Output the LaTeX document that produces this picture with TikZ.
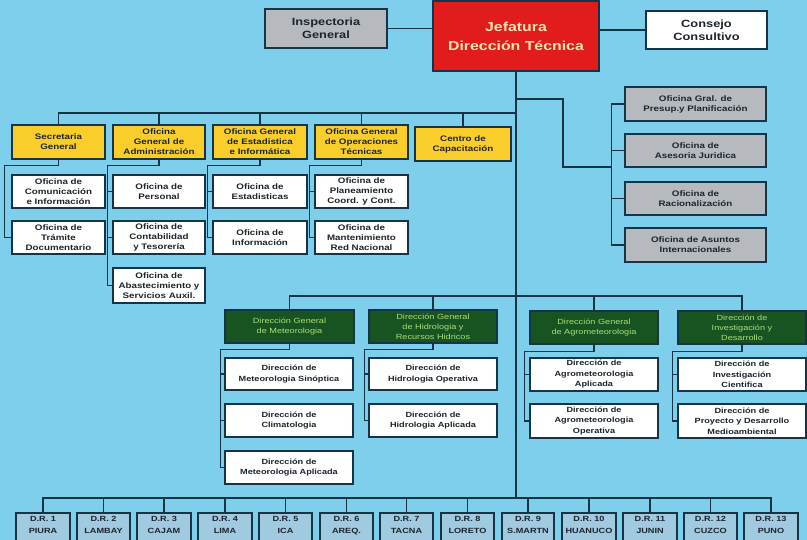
\documentclass[tikz,border=0pt]{standalone}
\usepackage{fontspec}
\setmainfont{Liberation Sans}[FakeStretch=1.22]
\definecolor{bgc}{RGB}{126,207,236}
\definecolor{linec}{RGB}{22,52,70}
\definecolor{txtc}{RGB}{28,36,46}
\definecolor{yelc}{RGB}{250,206,42}
\definecolor{redc}{RGB}{226,28,28}
\definecolor{redtxt}{RGB}{252,230,178}
\definecolor{grayc}{RGB}{182,186,190}
\definecolor{grnc}{RGB}{24,84,34}
\definecolor{grntxt}{RGB}{172,222,122}
\definecolor{drc}{RGB}{160,202,224}
\tikzset{
  boxbase/.style={draw=linec, line width=1.3pt, inner sep=0pt, align=center, text=txtc},
  smallf/.style={font=\fontsize{8}{10}\selectfont\bfseries},
  lowf/.style={font=\fontsize{7.5}{10.5}\selectfont\bfseries},
  whitebox/.style={boxbase, fill=white},
  graybox/.style={boxbase, fill=grayc},
  yellowbox/.style={boxbase, fill=yelc, smallf},
  redbox/.style={boxbase, fill=redc, text=redtxt, font=\fontsize{13}{19}\selectfont\bfseries},
  greenbox/.style={boxbase, fill=grnc, text=grntxt, font=\fontsize{7.5}{10}\selectfont},
  drbox/.style={boxbase, fill=drc, font=\fontsize{7.5}{12}\selectfont\bfseries},
  conn/.style={draw=linec, line width=1.7pt},
}
\newcommand\bx[7]{\node[#6, minimum width={#4-#2}, minimum height={#5-#3}] (#1) at ({(#2+#4)/2},{(#3+#5)/2}) {#7};}
\begin{document}
\begin{tikzpicture}[x=1pt,y=-1pt]
\useasboundingbox (0,0) rectangle (807,540);
\fill[bgc] (0,0) rectangle (807,540);
\clip (0,0) rectangle (807,540);
% coordinates
\coordinate (yb) at (516,113);
\coordinate (ga) at (516,99);
\coordinate (gb) at (563,167);
\coordinate (gc) at (612,167);
\coordinate (mb) at (516,296);
\coordinate (db) at (516,498);
% top
\bx{ig}{265}{9}{387}{48}{graybox,font=\fontsize{10.5}{13}\selectfont\bfseries}{Inspectoria\\General}
\bx{jef}{433}{1}{599}{71}{redbox}{Jefatura\\Dirección Técnica}
\bx{cc}{646}{11}{767}{49}{whitebox,font=\fontsize{10.5}{13}\selectfont\bfseries}{Consejo\\Consultivo}
% yellow row
\bx{sg}{12}{125}{105}{159}{yellowbox}{Secretaria\\General}
\bx{oga}{113}{125}{205}{159}{yellowbox}{Oficina\\General de\\Administración}
\bx{oge}{213}{125}{307}{159}{yellowbox}{Oficina General\\de Estadistica\\e Informática}
\bx{ogo}{315}{125}{408}{159}{yellowbox}{Oficina General\\de Operaciones\\Técnicas}
\bx{cap}{415}{127}{511}{161}{yellowbox}{Centro de\\Capacitación}
% white under yellow
\bx{w11}{12}{175}{105}{208}{whitebox,smallf}{Oficina de\\Comunicación\\e Información}
\bx{w12}{12}{221}{105}{254}{whitebox,smallf}{Oficina de\\Trámite\\Documentario}
\bx{w21}{113}{175}{205}{208}{whitebox,smallf}{Oficina de\\Personal}
\bx{w22}{113}{221}{205}{254}{whitebox,smallf}{Oficina de\\Contabilidad\\y Tesorería}
\bx{w23}{113}{268}{205}{303}{whitebox,smallf}{Oficina de\\Abastecimiento y\\Servicios Auxil.}
\bx{w31}{213}{175}{307}{208}{whitebox,smallf}{Oficina de\\Estadisticas}
\bx{w32}{213}{221}{307}{254}{whitebox,smallf}{Oficina de\\Información}
\bx{w41}{315}{175}{408}{208}{whitebox,smallf}{Oficina de\\Planeamiento\\Coord. y Cont.}
\bx{w42}{315}{221}{408}{254}{whitebox,smallf}{Oficina de\\Mantenimiento\\Red Nacional}
% gray right
\bx{g1}{625}{87}{766}{121}{graybox,smallf}{Oficina Gral. de\\Presup.y Planificación}
\bx{g2}{625}{134}{766}{167}{graybox,smallf}{Oficina de\\Asesoria Juridica}
\bx{g3}{625}{182}{766}{215}{graybox,smallf}{Oficina de\\Racionalización}
\bx{g4}{625}{228}{766}{262}{graybox,smallf}{Oficina de Asuntos\\Internacionales}
% green row
\bx{m1}{225}{310}{354}{343}{greenbox}{Dirección General\\de Meteorologia}
\bx{m2}{369}{310}{497}{343}{greenbox}{Dirección General\\de Hidrologia y\\Recursos Hidricos}
\bx{m3}{530}{311}{658}{344}{greenbox}{Dirección General\\de Agrometeorologia}
\bx{m4}{678}{311}{806}{344}{greenbox}{Dirección de\\Investigación y\\Desarrollo}
% white under green
\bx{m11}{225}{358}{353}{390}{whitebox,lowf}{Dirección de\\Meteorologia Sinóptica}
\bx{m12}{225}{404}{353}{437}{whitebox,lowf}{Dirección de\\Climatologia}
\bx{m13}{225}{451}{353}{484}{whitebox,lowf}{Dirección de\\Meteorologia Aplicada}
\bx{m21}{369}{358}{497}{390}{whitebox,lowf}{Dirección de\\Hidrologia Operativa}
\bx{m22}{369}{404}{497}{437}{whitebox,lowf}{Dirección de\\Hidrologia Aplicada}
\bx{m31}{530}{358}{658}{391}{whitebox,lowf}{Dirección de\\Agrometeorologia\\Aplicada}
\bx{m32}{530}{404}{658}{438}{whitebox,lowf}{Dirección de\\Agrometeorologia\\Operativa}
\bx{m41}{678}{358}{806}{391}{whitebox,lowf}{Dirección de\\Investigación\\Cientifica}
\bx{m42}{678}{404}{806}{438}{whitebox,lowf}{Dirección de\\Proyecto y Desarrollo\\Medioambiental}
% D.R. row
\bx{dr1}{16}{513}{70}{549}{drbox}{D.R. 1\\PIURA\\\mbox{}}
\bx{dr2}{77}{513}{130}{549}{drbox}{D.R. 2\\LAMBAY\\\mbox{}}
\bx{dr3}{137}{513}{191}{549}{drbox}{D.R. 3\\CAJAM\\\mbox{}}
\bx{dr4}{198}{513}{252}{549}{drbox}{D.R. 4\\LIMA\\\mbox{}}
\bx{dr5}{259}{513}{312}{549}{drbox}{D.R. 5\\ICA\\\mbox{}}
\bx{dr6}{320}{513}{373}{549}{drbox}{D.R. 6\\AREQ.\\\mbox{}}
\bx{dr7}{380}{513}{433}{549}{drbox}{D.R. 7\\TACNA\\\mbox{}}
\bx{dr8}{441}{513}{494}{549}{drbox}{D.R. 8\\LORETO\\\mbox{}}
\bx{dr9}{502}{513}{554}{549}{drbox}{D.R. 9\\S.MARTN\\\mbox{}}
\bx{dr10}{562}{513}{616}{549}{drbox}{D.R. 10\\HUANUCO\\\mbox{}}
\bx{dr11}{623}{513}{677}{549}{drbox}{D.R. 11\\JUNIN\\\mbox{}}
\bx{dr12}{684}{513}{737}{549}{drbox}{D.R. 12\\CUZCO\\\mbox{}}
\bx{dr13}{744}{513}{798}{549}{drbox}{D.R. 13\\PUNO\\\mbox{}}
% connectors
\draw[conn] (ig.east) -- (ig.east -| jef.west);
\draw[conn] (jef.east |- cc.west) -- (cc.west);
\draw[conn] (jef.south) -- (db);
% yellow bus
\draw[conn] (sg.north) |- (yb);
\foreach \n in {oga,oge,ogo,cap} \draw[conn] (\n.north) -- (\n.north |- yb);
% gray branch
\draw[conn] (ga) -| (gb) -- (gc);
\draw[conn] (g1.west) -- ++(-13,0) |- (g4.west);
\draw[conn] (g2.west) -- ++(-13,0);
\draw[conn] (g3.west) -- ++(-13,0);
% yellow children
\draw[conn] (sg.south) -- ++(0,6) -| ([xshift=-7pt]w12.west) -- (w12.west);
\draw[conn] (oga.south) -- ++(0,6) -| ([xshift=-5pt]w23.west) -- (w23.west);
\draw[conn] (w21.west) -- ++(-5,0);
\draw[conn] (w22.west) -- ++(-5,0);
\draw[conn] (oge.south) -- ++(0,6) -| ([xshift=-5pt]w32.west) -- (w32.west);
\draw[conn] (w31.west) -- ++(-5,0);
\draw[conn] (ogo.south) -- ++(0,6) -| ([xshift=-5pt]w42.west) -- (w42.west);
\draw[conn] (w41.west) -- ++(-5,0);
% green bus
\draw[conn] (m1.north) |- (mb) -| (m4.north);
\draw[conn] (m2.north) -- (m2.north |- mb);
\draw[conn] (m3.north) -- (m3.north |- mb);
% green children
\draw[conn] (m1.south) -- ++(0,6) -| ([xshift=-4pt]m13.west) -- (m13.west);
\draw[conn] (m11.west) -- ++(-4,0);
\draw[conn] (m12.west) -- ++(-4,0);
\draw[conn] (m2.south) -- ++(0,6) -| ([xshift=-4pt]m22.west) -- (m22.west);
\draw[conn] (m21.west) -- ++(-4,0);
\draw[conn] (m3.south) -- ++(0,7) -| ([xshift=-5pt]m32.west) -- (m32.west);
\draw[conn] (m31.west) -- ++(-5,0);
\draw[conn] (m4.south) -- ++(0,7) -| ([xshift=-5pt]m42.west) -- (m42.west);
\draw[conn] (m41.west) -- ++(-5,0);
% D.R. bus
\draw[conn] (dr1.north) |- (db) -| (dr13.north);
\foreach \n in {dr2,dr3,dr4,dr5,dr6,dr7,dr8,dr9,dr10,dr11,dr12} \draw[conn] (\n.north) -- (\n.north |- db);
\end{tikzpicture}
\end{document}
